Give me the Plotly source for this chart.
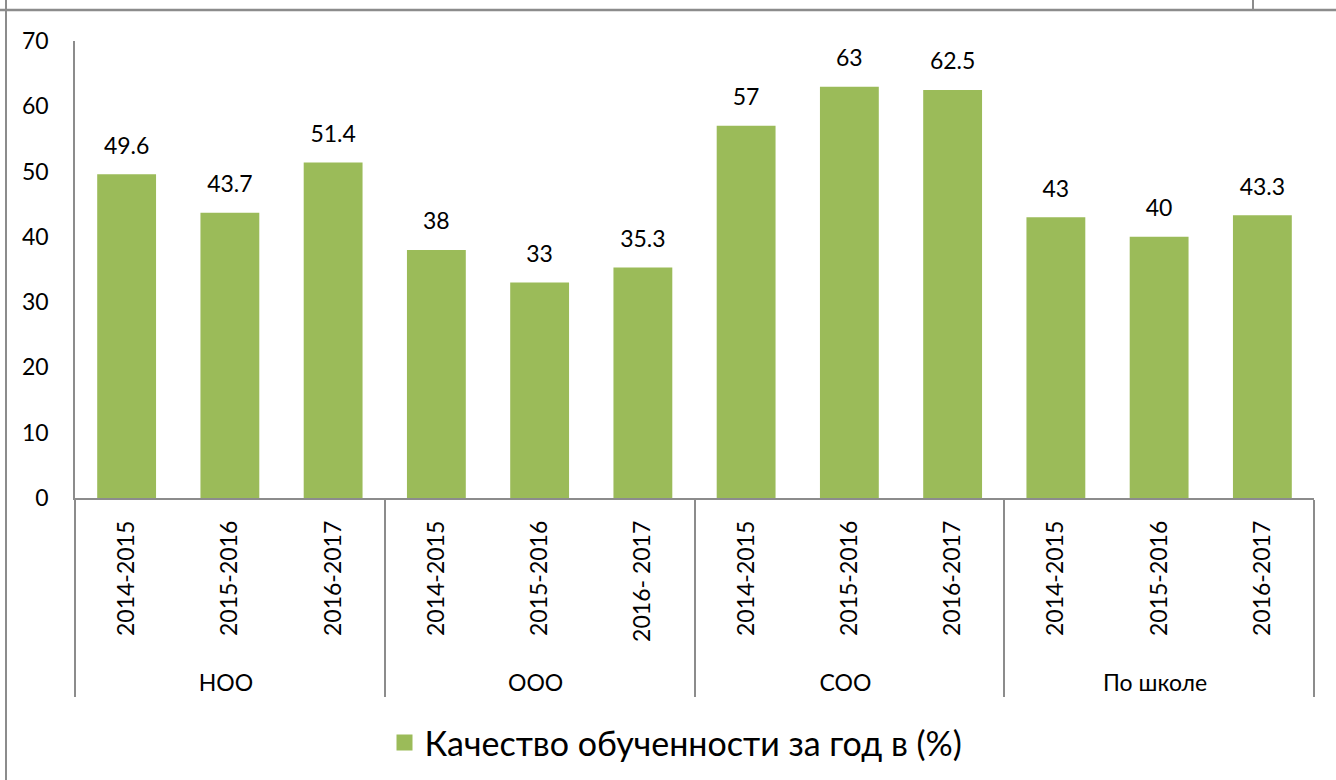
import plotly.graph_objects as go

groups = ["НОО", "ООО", "СОО", "По школе"]
years = [
    ["2014-2015", "2015-2016", "2016-2017"],
    ["2014-2015", "2015-2016", "2016- 2017"],
    ["2014-2015", "2015-2016", "2016-2017"],
    ["2014-2015", "2015-2016", "2016-2017"],
]
values = [49.6, 43.7, 51.4, 38, 33, 35.3, 57, 63, 62.5, 43, 40, 43.3]
labels = ["49.6", "43.7", "51.4", "38", "33", "35.3", "57", "63", "62.5", "43", "40", "43.3"]
series_name = "Качество обученности за год в (%)"

NB = "\u00a0"
outer = [g for g in groups for _ in range(3)]
inner = [NB * 1 + y + NB * 2 for ys in years for y in ys]

FONT = "Lato"
GREEN = "#9BBB59"
GRAY = "#8c8c8c"

fig = go.Figure()
fig.add_trace(go.Bar(
    x=[outer, inner], y=values, name=series_name,
    marker=dict(color=GREEN, line=dict(width=0)),
    showlegend=False,
))
fig.add_trace(go.Scatter(
    x=[outer, inner], y=values, mode="markers+text",
    text=labels, textposition="top center",
    marker=dict(size=22, opacity=0),
    textfont=dict(family=FONT, size=23, color="#000000"),
    showlegend=False, hoverinfo="skip",
))
# legend entry
fig.add_trace(go.Scatter(
    x=[[outer[0]], [inner[0]]], y=[None], mode="markers", name=series_name,
    marker=dict(symbol="square", size=21, color=GREEN),
    showlegend=True, hoverinfo="skip",
))

W, H = 1336, 780
L, R, T, B = 75, 1314, 41, 498
pw, ph = R - L, B - T

def px(x):
    return (x - L) / pw

def py(y):
    return (B - y) / ph

shapes = [
    dict(type="line", xref="paper", yref="paper", x0=px(0), x1=px(W), y0=py(10), y1=py(10),
         line=dict(color=GRAY, width=2.5)),
    dict(type="line", xref="paper", yref="paper", x0=px(6), x1=px(6), y0=py(0), y1=py(H),
         line=dict(color=GRAY, width=2)),
    dict(type="line", xref="paper", yref="paper", x0=px(1253), x1=px(1253), y0=py(0), y1=py(10),
         line=dict(color=GRAY, width=2)),
]

fig.update_layout(
    width=W, height=H,
    margin=dict(l=L, r=W - R, t=T, b=H - B, autoexpand=False),
    paper_bgcolor="white", plot_bgcolor="white",
    bargap=0.43,
    font=dict(family=FONT, size=23, color="#000000"),
    shapes=shapes,
    showlegend=True,
    legend=dict(orientation="h", x=px(676), xanchor="center", y=py(743), yanchor="middle",
                font=dict(family=FONT, size=34, color="#000000")),
)
fig.update_yaxes(range=[0, 70], dtick=10, showgrid=False, zeroline=False,
                 showline=True, linecolor=GRAY, linewidth=1.5, ticks="",
                 ticklabelstandoff=20, tickfont=dict(family=FONT, size=23))
fig.update_xaxes(type="multicategory", range=[-0.5, 11.5], autorange=False,
                 showline=True, linecolor=GRAY, linewidth=1.5,
                 showgrid=False, tickangle=-90, showdividers=True,
                 dividercolor=GRAY, dividerwidth=1.5, ticks="",
                 tickfont=dict(family=FONT, size=23))

fig.write_html("out.html")
